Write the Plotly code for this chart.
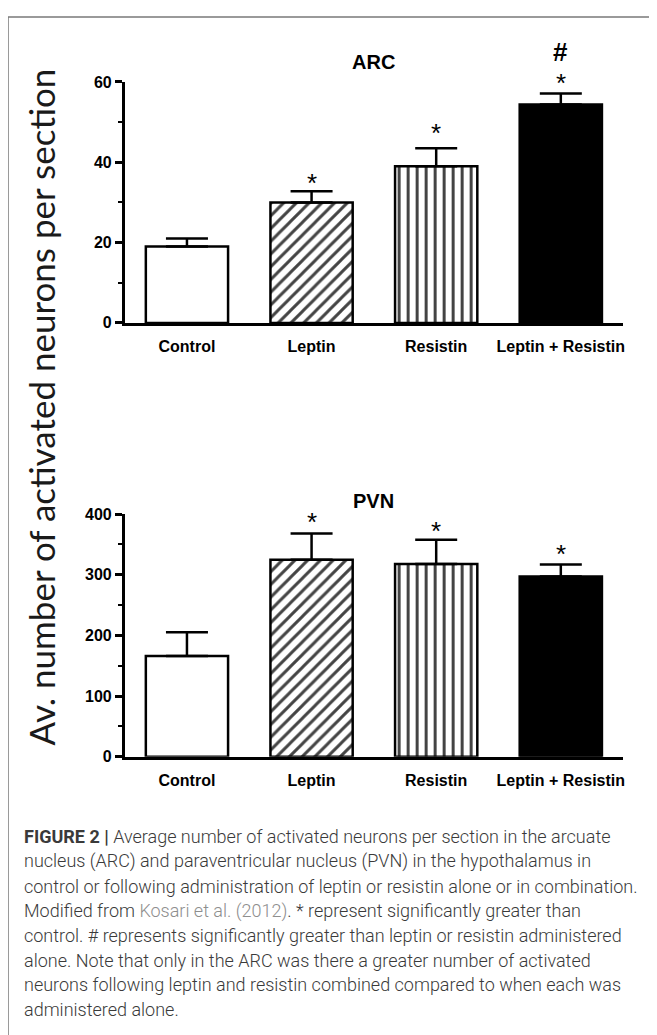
import plotly.graph_objects as go

# ---------------- data ----------------
categories = ["Control", "Leptin", "Resistin", "Leptin + Resistin"]

arc_mean = [19.0, 30.0, 39.0, 54.4]
arc_err = [2.0, 2.8, 4.5, 2.7]
arc_marks_y = [36.1, 48.6, 61.0, 67.4]
arc_marks_x = ["Leptin", "Resistin", "Leptin + Resistin", "Leptin + Resistin"]
arc_marks_text = ["*", "*", "*", "#"]

pvn_mean = [166, 325, 318, 297]
pvn_err = [39, 43, 40, 20]
pvn_marks_y = [396, 380, 342]
pvn_marks_x = ["Leptin", "Resistin", "Leptin + Resistin"]
pvn_marks_text = ["*", "*", "*"]

arc_ticks = [0, 20, 40, 60]
pvn_ticks = [0, 100, 200, 300, 400]

caption_lines = [
    "<b>FIGURE 2 |</b> Average number of activated neurons per section in the arcuate",
    "nucleus (ARC) and paraventricular nucleus (PVN) in the hypothalamus in",
    "control or following administration of leptin or resistin alone or in combination.",
    "Modified from <span style='color:#8e8e8e'>Kosari et al. (2012)</span>. * represent significantly greater than",
    "control. # represents significantly greater than leptin or resistin administered",
    "alone. Note that only in the ARC was there a greater number of activated",
    "neurons following leptin and resistin combined compared to when each was",
    "administered alone.",
]

# ---------------- styles ----------------
W, H = 657, 1035
OFF = 8  # page body margin
fill_colors = ["white", "white", "white", "black"]
pattern_shapes = ["", "/", "|", ""]


def px_x(p):
    return (p - OFF) / W


def px_y(p):
    return 1 - (p - OFF) / H


# panel pixel geometry
ARC_BOT, ARC_TOP, ARC_EXT = 320, 75, 20
PVN_BOT, PVN_TOP = 761, 514.5
arc_max = 60
arc_ext_max = arc_max * (ARC_BOT - ARC_EXT) / (ARC_BOT - ARC_TOP)

fig = go.Figure()

for mean, err, xa, ya in [(arc_mean, arc_err, "x", "y"), (pvn_mean, pvn_err, "x2", "y2")]:
    fig.add_trace(go.Bar(
        x=categories, y=mean, xaxis=xa, yaxis=ya, width=0.66,
        marker=dict(
            color=fill_colors,
            line=dict(color="black", width=2.5),
            pattern=dict(shape=pattern_shapes, fillmode="overlay", fgcolor="black",
                         fgopacity=1, size=9, solidity=0.33),
        ),
        error_y=dict(type="data", symmetric=False, array=err, arrayminus=[0] * len(err),
                     color="black", thickness=2.5, width=21),
        showlegend=False, hoverinfo="skip",
    ))

x_dom = [px_x(125), px_x(625)]
tickfont = dict(family="Liberation Sans", size=16, color="black", weight="bold")

common_x = dict(domain=x_dom, range=[-0.5, 3.5], type="category", showline=True,
                linecolor="black", linewidth=2.5, ticks="", tickfont=tickfont,
                showgrid=False, zeroline=False, ticklabelstandoff=7,
                categoryorder="array", categoryarray=categories)
fig.update_layout(
    xaxis=dict(anchor="y", **common_x),
    xaxis2=dict(anchor="y2", **common_x),
    yaxis=dict(anchor="x", domain=[px_y(ARC_BOT), px_y(ARC_TOP)], range=[0, arc_max],
               tickvals=arc_ticks, showline=True, linecolor="black", linewidth=2.5,
               ticks="outside", ticklen=7, tickwidth=2.5, tickcolor="black",
               tickfont=tickfont, showgrid=False, zeroline=False,
               minor=dict(ticks="outside", ticklen=4, tickwidth=2, tickcolor="black", dtick=10)),
    # invisible axis with the same scale as the ARC axis, but taller, for marks above its top
    yaxis3=dict(anchor="x", domain=[px_y(ARC_BOT), px_y(ARC_EXT)],
                range=[0, arc_ext_max], visible=False, showgrid=False, zeroline=False),
    yaxis2=dict(anchor="x2", domain=[px_y(PVN_BOT), px_y(PVN_TOP)], range=[0, 400],
                tickvals=pvn_ticks, showline=True, linecolor="black", linewidth=2.5,
                ticks="outside", ticklen=7, tickwidth=2.5, tickcolor="black",
                tickfont=tickfont, showgrid=False, zeroline=False,
                minor=dict(ticks="outside", ticklen=4, tickwidth=2, tickcolor="black", dtick=50)),
    width=W, height=H, autosize=False,
    margin=dict(l=0, r=0, t=0, b=0),
    paper_bgcolor="white", plot_bgcolor="rgba(0,0,0,0)",
)

annotations = [
    dict(text="<b>ARC</b>", x=px_x(375), y=px_y(55), xref="paper", yref="paper",
         xanchor="center", yanchor="middle", showarrow=False,
         font=dict(family="Liberation Sans", size=20, color="black")),
    dict(text="<b>PVN</b>", x=px_x(375), y=px_y(501), xref="paper", yref="paper",
         xanchor="center", yanchor="middle", showarrow=False,
         font=dict(family="Liberation Sans", size=20, color="black")),
    dict(text="Av. number of activated neurons per section", textangle=-90,
         x=px_x(42), y=px_y(405), xref="paper", yref="paper", showarrow=False,
         xanchor="center", yanchor="middle",
         font=dict(family="Lato", size=35, color="#1a1a1a")),
]

# significance marks, placed in data coordinates of each panel
for mx, my, mt, xr, yr in [(arc_marks_x, arc_marks_y, arc_marks_text, "x", "y3"),
                           (pvn_marks_x, pvn_marks_y, pvn_marks_text, "x2", "y2")]:
    for cx, cy, ct in zip(mx, my, mt):
        is_star = ct == "*"
        annotations.append(dict(
            text=ct, x=cx, y=cy, xref=xr, yref=yr, showarrow=False,
            xanchor="center", yanchor="middle", yshift=-5 if is_star else 0,
            font=dict(family="Liberation Sans", size=26, color="black",
                      weight="normal" if is_star else "bold"),
        ))

for i, line in enumerate(caption_lines):
    annotations.append(dict(
        text=line, x=px_x(22), y=px_y(842.5 + i * 25.1), xref="paper", yref="paper",
        xanchor="left", yanchor="middle", showarrow=False, align="left",
        font=dict(family="Roboto", size=18, color="#3a3a3a", weight=300),
    ))
fig.update_layout(annotations=annotations)

fig.add_shape(type="path", xref="paper", yref="paper",
              path=f"M {px_x(8)} -0.05 L {px_x(8)} {px_y(9)} L 1.05 {px_y(9)}",
              line=dict(color="#7a7a7a", width=1.5))

fig.write_html("out.html")
